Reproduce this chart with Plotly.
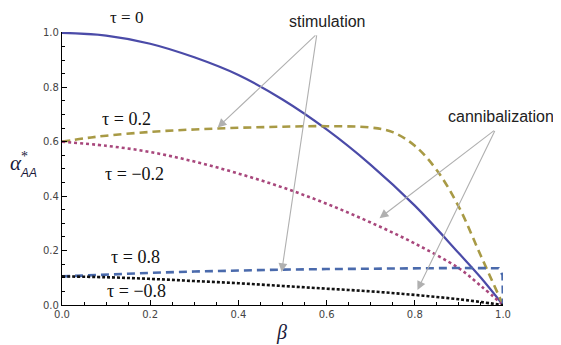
import plotly.graph_objects as go

# values
beta_tau0 = [0.0, 0.1, 0.2, 0.3, 0.4, 0.5, 0.6, 0.7, 0.8, 0.9, 0.95, 1.0]
alpha_tau0 = [1.0, 0.99, 0.96, 0.91, 0.845, 0.755, 0.645, 0.515, 0.365, 0.19, 0.1, 0.0]

beta_tau02 = [0.0, 0.05, 0.1, 0.2, 0.3, 0.4, 0.5, 0.6, 0.7, 0.75, 0.8, 0.85, 0.9, 0.95, 1.0]
alpha_tau02 = [0.6, 0.612, 0.622, 0.636, 0.645, 0.651, 0.655, 0.657, 0.652, 0.635, 0.585, 0.495, 0.36, 0.18, 0.0]

beta_taum02 = [0.0, 0.1, 0.2, 0.3, 0.4, 0.5, 0.6, 0.7, 0.8, 0.9, 0.95, 1.0]
alpha_taum02 = [0.6, 0.585, 0.562, 0.527, 0.483, 0.432, 0.372, 0.303, 0.226, 0.135, 0.07, 0.0]

beta_tau08 = [0.0, 0.1, 0.2, 0.3, 0.4, 0.5, 0.6, 0.7, 0.8, 0.9, 0.99, 0.999, 1.0]
alpha_tau08 = [0.105, 0.112, 0.118, 0.123, 0.127, 0.13, 0.132, 0.134, 0.135, 0.136, 0.135, 0.11, 0.0]

beta_taum08 = [0.0, 0.1, 0.2, 0.3, 0.4, 0.5, 0.6, 0.7, 0.8, 0.9, 1.0]
alpha_taum08 = [0.105, 0.102, 0.096, 0.088, 0.08, 0.07, 0.06, 0.05, 0.037, 0.021, 0.0]

fig = go.Figure()

fig.add_trace(go.Scatter(x=beta_tau0, y=alpha_tau0, mode='lines',
                         line=dict(color='#4b4ba8', width=2.2, shape='spline')))
fig.add_trace(go.Scatter(x=beta_tau02, y=alpha_tau02, mode='lines',
                         line=dict(color='#a89a45', width=2.6, dash='8px,5px', shape='spline')))
fig.add_trace(go.Scatter(x=beta_taum02, y=alpha_taum02, mode='lines',
                         line=dict(color='#a8477c', width=2.6, dash='3px,3px', shape='spline')))
fig.add_trace(go.Scatter(x=beta_tau08, y=alpha_tau08, mode='lines',
                         line=dict(color='#4a6aac', width=2.6, dash='8px,5px')))
fig.add_trace(go.Scatter(x=beta_taum08, y=alpha_taum08, mode='lines',
                         line=dict(color='#111111', width=2.6, dash='3px,2px', shape='spline')))

serif = 'Liberation Serif'
sans = 'Liberation Sans'

# text placed in paper coordinates (0..1 = plot area)
def label(txt, x, y, family, size, color='#111111'):
    fig.add_annotation(xref='paper', yref='paper', x=x, y=y, text=txt,
                       showarrow=False, xanchor='center', yanchor='middle',
                       font=dict(family=family, size=size, color=color))

label('τ = 0', 0.147, 1.054, serif, 17)
label('τ = 0.2', 0.147, 0.68, serif, 18)
label('τ = −0.2', 0.165, 0.48, serif, 18)
label('τ = 0.8', 0.167, 0.176, serif, 18)
label('τ = −0.8', 0.170, 0.051, serif, 18)

label('stimulation', 0.601, 1.04, sans, 16, '#222222')
label('cannibalization', 0.995, 0.689, sans, 16, '#222222')

arrows = [
    (0.353, 0.652, 0.578, 0.996),
    (0.498, 0.121, 0.578, 0.996),
    (0.72, 0.319, 0.983, 0.645),
    (0.806, 0.055, 0.983, 0.645),
]
for x, y, ax, ay in arrows:
    fig.add_annotation(x=x, y=y, ax=ax, ay=ay, axref='x', ayref='y',
                       text='', showarrow=True, arrowhead=2, arrowsize=1.6,
                       arrowwidth=1.1, arrowcolor='#b0b0b0')

# axis titles
label('<i>α</i>', -0.105, 0.52, serif, 21, '#1a1a3a')
label('*', -0.084, 0.545, serif, 14, '#1a1a3a')
label('<i>AA</i>', -0.076, 0.485, sans, 12, '#1a1a3a')
label('<i>β</i>', 0.498, -0.102, serif, 20, '#1a1a3a')

axis_common = dict(
    showline=True, linecolor='black', linewidth=1.3,
    showgrid=False, zeroline=False,
    ticks='inside', ticklen=5, tickwidth=1, tickcolor='black',
    tickfont=dict(family='DejaVu Sans', size=10, color='#444444'),
    tickformat='.1f', dtick=0.2, tick0=0,
    minor=dict(ticks='inside', ticklen=3, dtick=0.05, tickcolor='black', showgrid=False),
)

# page body has an 8px margin, so the figure is 8px smaller each way
fig.update_layout(
    width=553, height=337,
    margin=dict(l=54, r=58, t=24, b=40),
    plot_bgcolor='white', paper_bgcolor='white',
    showlegend=False,
    xaxis=dict(range=[0, 1.0], **axis_common),
    yaxis=dict(range=[0, 1.003], **axis_common),
)

fig.write_html("out.html")
